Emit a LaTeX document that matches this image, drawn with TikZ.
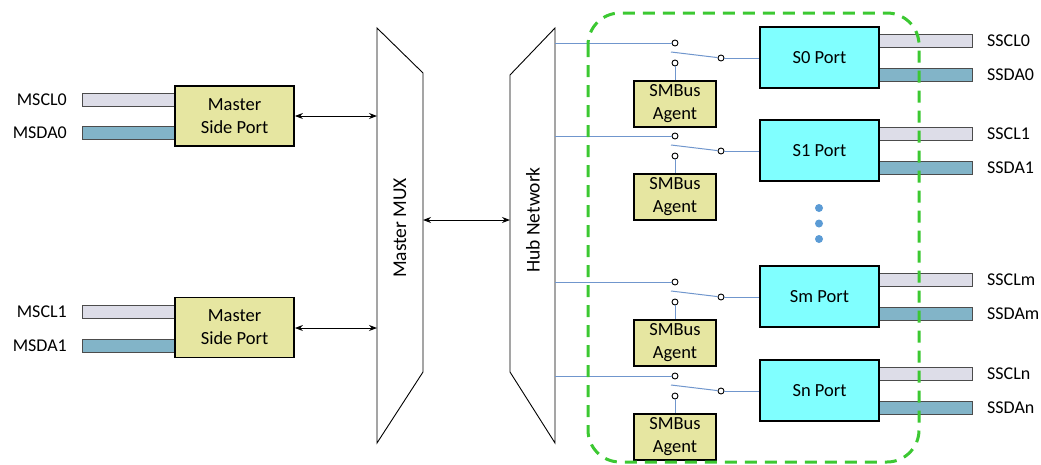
\documentclass[tikz,border=0pt]{standalone}
\usepackage{fontspec}
\setmainfont{Carlito}
\usetikzlibrary{arrows.meta}
\definecolor{msp}{RGB}{230,230,161}
\definecolor{scl}{RGB}{221,221,232}
\definecolor{sda}{RGB}{130,180,200}
\definecolor{portc}{RGB}{128,255,255}
\definecolor{wirec}{RGB}{112,150,205}
\definecolor{dotc}{RGB}{91,155,213}
\definecolor{grn}{RGB}{60,200,50}
\begin{document}
\begin{tikzpicture}[x=1pt,y=-1pt,
 box/.style={draw=black, line width=1.8pt, inner sep=0pt, align=center, font=\fontsize{18.5}{23}\selectfont},
 mport/.style={box, fill=msp, minimum width=119pt, minimum height=60pt},
 sport/.style={box, fill=portc, minimum width=119pt, minimum height=61pt},
 agent/.style={box, fill=msp, minimum width=82pt, minimum height=46pt},
 bar/.style={draw=black!70, line width=0.8pt, minimum width=93pt, minimum height=13pt, inner sep=0pt},
 sclbar/.style={bar, fill=scl},
 sdabar/.style={bar, fill=sda},
 lab/.style={font=\fontsize{18}{20}\selectfont, inner sep=0pt},
 vlab/.style={font=\fontsize{19.5}{22}\selectfont, inner sep=0pt, rotate=90},
 term/.style={circle, draw=black, fill=white, line width=0.9pt, minimum size=6pt, inner sep=0pt},
 wire/.style={draw=wirec, line width=1pt},
 arr/.style={draw=black, line width=1pt, {Stealth[length=8pt,width=6pt]}-{Stealth[length=8pt,width=6pt]}},
 dotn/.style={circle, fill=dotc, minimum size=8pt, inner sep=0pt},
]
\useasboundingbox (0,0) rectangle (1041,464);

% Master MUX and Hub Network
\draw[line width=0.9pt] (377,28) -- (423,73) -- (423,372) -- (377,443) -- cycle;
\node[vlab] (muxlab) at (400,228) {Master MUX};
\draw[line width=0.9pt] (510,75) -- (555,28) -- (555,443) -- (510,372) -- cycle;
\node[vlab] (hublab) at (533,220) {Hub Network};
\coordinate (muxL1) at (377,116);
\coordinate (muxL2) at (377,328);
\coordinate (muxR) at (423,220);
\coordinate (hubL) at (510,220);
\draw[arr] (muxR) -- (hubL);

% Master side ports
\node[sclbar] (mscl0) at (128.5,99.5) {};
\node[sdabar] (msda0) at (128.5,132.5) {};
\node[mport] (mp0) at (234.5,116) {Master\\Side Port};
\node[lab, anchor=east] (lmscl0) at (67,99.5) {MSCL0};
\node[lab, anchor=east] (lmsda0) at (67,132.5) {MSDA0};
\draw[arr] (mp0.east) -- (muxL1);

\node[sclbar] (mscl1) at (128.5,311.5) {};
\node[sdabar] (msda1) at (128.5,345.5) {};
\node[mport] (mp1) at (234.5,327.5) {Master\\Side Port};
\node[lab, anchor=east] (lmscl1) at (67,311.5) {MSCL1};
\node[lab, anchor=east] (lmsda1) at (67,345.5) {MSDA1};
\draw[arr] (mp1.east |- muxL2) -- (muxL2);

% Slave rows
\foreach \h/\s in {43/0,136/1,282/m,376/n}{
  \coordinate (hub\s) at (555,\h);
  \node[term] (ta\s) at (675,\h) {};
  \node[term] (tb\s) at (675,\h+20) {};
  \node[term] (tc\s) at (721,\h+15) {};
  \coordinate (bl\s) at (671,\h+9);
  \node[agent] (ag\s) at (675,\h+61) {SMBus\\Agent};
  \node[sclbar] (sscl\s) at (925.5,\h-2) {};
  \node[sdabar] (ssda\s) at (925.5,\h+31.5) {};
  \node[sport] (sp\s) at (819.5,\h+14.5) {S\s{} Port};
  \node[lab, anchor=west] (lsscl\s) at (987,\h-2) {SSCL\s};
  \node[lab, anchor=west] (lssda\s) at (987,\h+31.5) {SSDA\s};
  \draw[wire] (hub\s) -- (ta\s.west);
  \draw[wire] (bl\s) -- (tc\s);
  \draw[wire] (tc\s.east) -- (sp\s.west |- tc\s.east);
  \draw[wire] (tb\s.south) -- (ag\s.north);
}

% continuation dots
\node[dotn] (d1) at (819,208) {};
\node[dotn] (d2) at (819,223.5) {};
\node[dotn] (d3) at (819,239) {};

% hub boundary
\draw[grn, line width=3pt, dash pattern=on 12pt off 8pt, rounded corners=32pt] (588,13) rectangle (919,462);
\end{tikzpicture}
\end{document}
